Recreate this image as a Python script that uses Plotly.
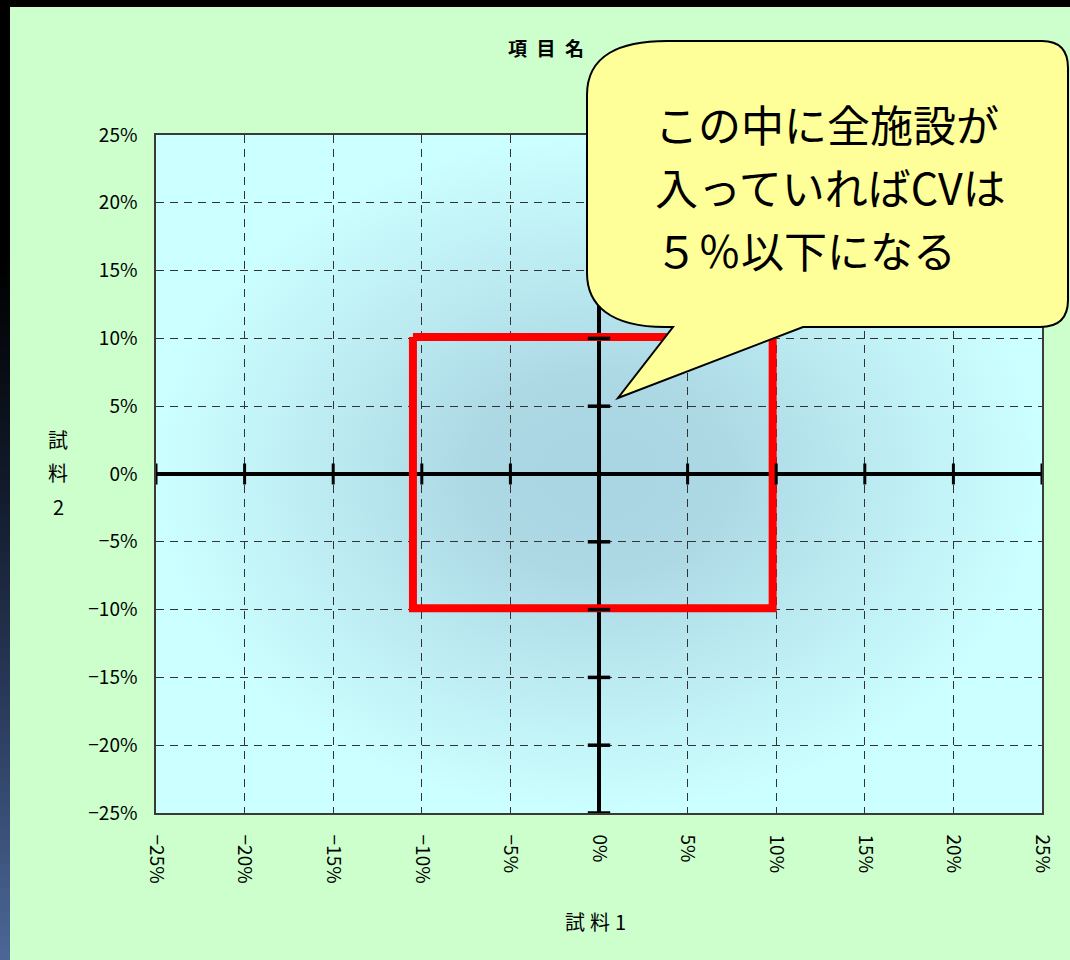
import plotly.graph_objects as go
import numpy as np

# ---------------- data ----------------
x_tick_vals = [-25, -20, -15, -10, -5, 0, 5, 10, 15, 20, 25]
x_tick_text = ["−25%", "−20%", "−15%", "−10%", "−5%", "0%", "5%", "10%", "15%", "20%", "25%"]
y_tick_vals = [-25, -20, -15, -10, -5, 0, 5, 10, 15, 20, 25]
y_tick_text = ["−25%", "−20%", "−15%", "−10%", "−5%", "0%", "5%", "10%", "15%", "20%", "25%"]
axis_range = [-25, 25]

# CV 5% acceptance box (試料1, 試料2 in %)
box_x = [-10.5, 9.8, 9.8, -10.5, -10.5]
box_y = [10.1, 10.1, -9.9, -9.9, 10.1]

title_text = "<b>項\u2002目\u2002名</b>"
x_title = "試\u2005料\u20051"
y_title_chars = ["試", "料", "2"]
callout_lines = ["この中に全施設が", "入っていればCVは", "５％以下になる"]

# ---------------- layout helpers ----------------
W, H = 1070, 960
L, R, T, B = 156, 1042, 135, 813


def px(x):
    return (x - L) / (R - L)


def py(y):
    return (B - y) / (B - T)


FONT = "Noto Sans CJK JP"

fig = go.Figure()

lo, hi = axis_range
# plot-area radial gradient background (bottom subplot)
fig.add_trace(go.Scatter(
    x=[lo, hi, hi, lo, lo], y=[lo, lo, hi, hi, lo],
    mode="lines", fill="toself", line=dict(width=0),
    fillgradient=dict(type="radial",
                      colorscale=[[0, "#A9D4E2"], [0.3, "#ADD9E5"],
                                  [0.65, "#BDEDF3"], [1, "#CCFFFF"]]),
    hoverinfo="skip", showlegend=False, xaxis="x", yaxis="y"))

# acceptance box
fig.add_trace(go.Scatter(
    x=box_x, y=box_y, mode="lines",
    line=dict(color="#FF0000", width=8),
    hoverinfo="skip", showlegend=False, xaxis="x2", yaxis="y2"))

# tick marks crossing the zero axes
fig.add_trace(go.Scatter(
    x=x_tick_vals, y=[0] * len(x_tick_vals), mode="markers",
    marker=dict(symbol="line-ns", size=15, line=dict(color="black", width=3)),
    cliponaxis=False, hoverinfo="skip", showlegend=False, xaxis="x2", yaxis="y2"))
fig.add_trace(go.Scatter(
    x=[0] * len(y_tick_vals), y=y_tick_vals, mode="markers",
    marker=dict(symbol="line-ew", size=16, line=dict(color="black", width=3.5)),
    cliponaxis=False, hoverinfo="skip", showlegend=False, xaxis="x2", yaxis="y2"))

common_hidden = dict(range=axis_range, visible=False, domain=[0, 1], fixedrange=True)

axis_style = dict(
    range=axis_range, domain=[0, 1], fixedrange=True,
    tickmode="array",
    ticks="outside", tickcolor="rgba(0,0,0,0)",
    showgrid=True, gridcolor="#333333", gridwidth=1, griddash="8px,6px",
    zeroline=True, zerolinecolor="black", zerolinewidth=3.5,
    showline=True, mirror=True, linecolor="#3a3a3a", linewidth=1.5,
    tickfont=dict(family=FONT, size=19, color="black"),
)

fig.update_layout(
    width=W, height=H,
    margin=dict(l=L, r=W - R, t=T, b=H - B, autoexpand=False),
    paper_bgcolor="#CCFFCC",
    plot_bgcolor="rgba(0,0,0,0)",
    showlegend=False,
    xaxis=dict(**common_hidden, anchor="y"),
    yaxis=dict(**common_hidden, anchor="x"),
    xaxis2=dict(**axis_style, anchor="y2", tickvals=x_tick_vals, ticktext=x_tick_text,
                tickangle=90, ticklen=16),
    yaxis2=dict(**axis_style, anchor="x2", tickvals=y_tick_vals, ticktext=y_tick_text,
                ticklen=13),
)

shapes = []
# black top frame
shapes.append(dict(type="rect", xref="paper", yref="paper", layer="below",
                   x0=px(0), x1=px(W + 5), y0=py(7), y1=py(-5),
                   fillcolor="black", line=dict(width=0)))
# left frame with vertical gradient (black -> blue)
stops_y = [0, 260, 480, 700, 960]
stops_r = [0, 0, 18, 42, 76]
stops_g = [0, 0, 26, 58, 104]
stops_b = [0, 0, 42, 90, 152]
step = 12
for y0 in range(0, H, step):
    yc = y0 + step / 2
    r = int(np.interp(yc, stops_y, stops_r))
    g = int(np.interp(yc, stops_y, stops_g))
    b = int(np.interp(yc, stops_y, stops_b))
    shapes.append(dict(type="rect", xref="paper", yref="paper", layer="below",
                       x0=px(-5), x1=px(10), y0=py(y0 + step + 0.5), y1=py(y0),
                       fillcolor=f"rgb({r},{g},{b})", line=dict(width=0)))


def P(x, y):
    return f"{px(x):.5f},{py(y):.5f}"


callout_path = (
    f"M {P(667, 41)} L {P(1042, 41)} Q {P(1068, 41)} {P(1068, 68)} "
    f"L {P(1068, 300)} Q {P(1068, 327)} {P(1040, 327)} "
    f"L {P(803, 327)} L {P(618, 398)} L {P(673, 327)} L {P(665, 327)} "
    f"C {P(610, 327)} {P(587, 305)} {P(587, 273)} "
    f"L {P(587, 95)} C {P(587, 55)} {P(620, 41)} {P(667, 41)} Z"
)
shapes.append(dict(type="path", xref="paper", yref="paper", layer="above",
                   path=callout_path, fillcolor="#FFFF99",
                   line=dict(color="black", width=2)))
fig.update_layout(shapes=shapes)

annotations = [
    dict(text=title_text, x=px(546), y=py(48), xref="paper", yref="paper",
         showarrow=False, font=dict(family=FONT, size=19, color="black"),
         xanchor="center", yanchor="middle"),
    dict(text=x_title, x=px(595), y=py(921), xref="paper", yref="paper",
         showarrow=False, font=dict(family=FONT, size=20, color="black"),
         xanchor="center", yanchor="middle"),
]
for line, yy in zip(callout_lines, [123, 186, 249]):
    annotations.append(dict(text=line, x=px(653), y=py(yy), xref="paper", yref="paper",
                            showarrow=False, font=dict(family=FONT, size=43, color="black"),
                            xanchor="left", yanchor="middle", align="left"))
for ch, yy in zip(y_title_chars, [439, 472, 506]):
    annotations.append(dict(text=ch, x=px(58), y=py(yy), xref="paper", yref="paper",
                            showarrow=False, font=dict(family=FONT, size=20, color="black"),
                            xanchor="center", yanchor="middle"))
fig.update_layout(annotations=annotations)

fig.write_html("out.html",
               config={"displayModeBar": False},
               post_script="document.body.style.margin='0';document.body.style.padding='0';")
